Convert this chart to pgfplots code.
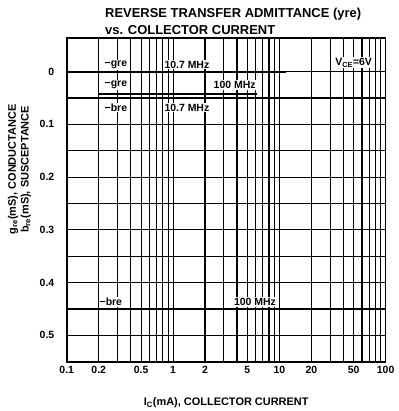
\documentclass[border=0pt]{standalone}
\usepackage{pgfplots}
\pgfplotsset{compat=1.18}
\usepackage{fontspec}
\setmainfont{Liberation Sans}
\tikzset{lab/.style={fill=white, inner sep=1pt, font=\bfseries\fontsize{10.5}{12}\selectfont}}
\begin{document}
\begin{tikzpicture}
\begin{axis}[
  scale only axis, width=320pt, height=325pt,
  xmode=log, xmin=0.1, xmax=100,
  ymin=-0.064, ymax=0.55, y dir=reverse,
  xtick={0.1,0.2,0.5,1,2,5,10,20,50,100},
  xticklabels={0.1,0.2,0.5,1,2,5,10,20,50,100},
  minor xtick={0.3,0.4,0.6,0.7,0.8,0.9,3,4,6,7,8,9,30,40,60,70,80,90},
  ytick={0,0.1,0.2,0.3,0.4,0.5},
  yticklabels={0,0.1,0.2,0.3,0.4,0.5},
  minor ytick={0.05,0.15,0.25,0.35,0.45},
  grid=both,
  major grid style={black, line width=1.1pt},
  minor grid style={black, line width=1.1pt},
  major tick length=0pt, minor tick length=0pt,
  axis line style={line width=1.6pt},
  tick label style={font=\bfseries\fontsize{10.5}{12}\selectfont},
  yticklabel style={xshift=-9pt},
  xticklabel style={yshift=-1pt},
  /pgf/number format/assume math mode=true,
  clip=false,
]
% -gre at 10.7 MHz
\addplot[black, line width=2.2pt] coordinates {(0.1,0) (11.5,0)};
% -gre at 100 MHz
\addplot[black, line width=2.2pt] coordinates {(0.2,0.042) (6.2,0.042)};
% -bre at 10.7 MHz
\addplot[black, line width=1.6pt, dash pattern=on 7pt off 2pt] coordinates {(0.2,0.05) (10,0.05)};
% -bre at 100 MHz
\addplot[black, line width=1.6pt, dash pattern=on 7pt off 2pt] coordinates {(0.2,0.45) (10,0.45)};

\node[lab] at (axis cs:0.29,-0.013) {−gre};
\node[lab] at (axis cs:1.35,-0.013) {10.7 MHz};
\node[lab] at (axis cs:0.29,0.025) {−gre};
\node[lab] at (axis cs:3.8,0.025) {100 MHz};
\node[lab] at (axis cs:0.29,0.068) {−bre};
\node[lab] at (axis cs:1.35,0.068) {10.7 MHz};
\node[lab] at (axis cs:0.26,0.437) {−bre};
\node[lab] at (axis cs:5.9,0.437) {100 MHz};
\node[lab] at (axis cs:50,-0.017) {V\textsubscript{CE}=6V};

\node[anchor=west, font=\bfseries\fontsize{13}{15}\selectfont] at ([xshift=35pt,yshift=24pt]rel axis cs:0,1) {REVERSE TRANSFER ADMITTANCE (yre)};
\node[anchor=west, font=\bfseries\fontsize{13}{15}\selectfont] at ([xshift=35pt,yshift=8pt]rel axis cs:0,1) {vs. COLLECTOR CURRENT};
\node[font=\bfseries\fontsize{11}{13}\selectfont] at ([yshift=-41pt]rel axis cs:0.5,0) {I\textsubscript{C}(mA), COLLECTOR CURRENT};
\node[rotate=90, font=\bfseries\fontsize{11}{13}\selectfont] at ([xshift=-54pt]rel axis cs:0,0.594) {g\textsubscript{re}(mS), CONDUCTANCE};
\node[rotate=90, font=\bfseries\fontsize{11}{13}\selectfont] at ([xshift=-41pt]rel axis cs:0,0.594) {b\textsubscript{re}(mS), SUSCEPTANCE};
\end{axis}
\path ([shift={(-67pt,-48pt)}]current axis.south west) rectangle ([shift={(13pt,38pt)}]current axis.north east);
\end{tikzpicture}
\end{document}
